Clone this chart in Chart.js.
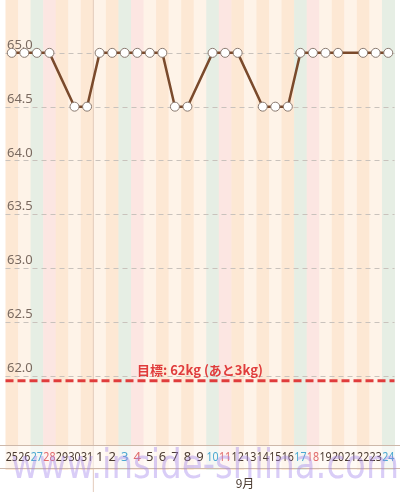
<!DOCTYPE html>
<html><head><meta charset="utf-8">
<script src="https://cdn.jsdelivr.net/npm/chart.js@4"></script>
<style>html,body{margin:0;padding:0;background:#fff}#wrap{width:400px;height:492px}</style>
</head><body><div id="wrap"><canvas id="c"></canvas></div>
<script>
const days = ['25','26','27','28','29','30','31','1','2','3','4','5','6','7','8','9','10','11','12','13','14','15','16','17','18','19','20','21','22','23','24'];
const weights = [65,65,65,65,null,64.5,64.5,65,65,65,65,65,65,64.5,64.5,null,65,65,65,null,64.5,64.5,64.5,65,65,65,65,null,65,65,65];
const blueDays = ['27','3','10','17','24'];
const redDays = ['28','4','11','18'];
const yTicks = [62.0,62.5,63.0,63.5,64.0,64.5,65.0];
const goal = 62;
const goalLabel = '目標: 62kg (あと3kg)';
const monthLabel = '9月';

const decor = {
  id: 'decor',
  beforeDatasetsDraw(chart) {
    const ctx = chart.ctx, x = chart.scales.x, y = chart.scales.y, a = chart.chartArea;
    const w = x.getPixelForValue(1) - x.getPixelForValue(0);
    let alt = 0;
    days.forEach((d, i) => {
      let col;
      if (blueDays.includes(d)) col = '#e6eee4';
      else if (redDays.includes(d)) col = '#fce6e2';
      else { col = alt % 2 ? '#fef3e8' : '#fde8d4'; alt++; }
      ctx.fillStyle = col;
      ctx.fillRect(x.getPixelForValue(i) - w / 2, 0, w + 0.5, 470);
    });
    const mx = (x.getPixelForValue(6) + x.getPixelForValue(7)) / 2;
    ctx.strokeStyle = '#e3cbbb'; ctx.lineWidth = 1;
    ctx.beginPath(); ctx.moveTo(mx, 0); ctx.lineTo(mx, 492); ctx.stroke();
    ctx.save();
    ctx.setLineDash([5, 4]); ctx.strokeStyle = '#c9c2bc';
    yTicks.forEach(v => {
      const py = Math.round(y.getPixelForValue(v)) + 0.5;
      ctx.beginPath(); ctx.moveTo(a.left, py); ctx.lineTo(a.right, py); ctx.stroke();
    });
    ctx.restore();
    ctx.font = '13px "Noto Sans", sans-serif';
    ctx.fillStyle = '#7a6a60'; ctx.textAlign = 'left'; ctx.textBaseline = 'bottom';
    yTicks.forEach(v => ctx.fillText(v.toFixed(1), 7, y.getPixelForValue(v) - 1));
    const gy = y.getPixelForValue(goal) + 5;
    ctx.save();
    ctx.setLineDash([8, 4]); ctx.strokeStyle = '#e03c3c'; ctx.lineWidth = 3;
    ctx.beginPath(); ctx.moveTo(a.left, gy); ctx.lineTo(a.right, gy); ctx.stroke();
    ctx.restore();
    ctx.font = 'bold 13px "Noto Sans CJK JP", sans-serif';
    ctx.fillStyle = '#e03c3c'; ctx.textAlign = 'center'; ctx.textBaseline = 'middle';
    ctx.fillText(goalLabel, 200, gy - 11);
    ctx.fillStyle = 'rgba(255,255,255,0.55)';
    ctx.fillRect(0, 445, 400, 24);
    ctx.strokeStyle = '#cdb8aa'; ctx.lineWidth = 1;
    ctx.beginPath(); ctx.moveTo(0, 445.5); ctx.lineTo(400, 445.5); ctx.moveTo(0, 468.5); ctx.lineTo(400, 468.5); ctx.stroke();
    ctx.font = '13px "Noto Sans", sans-serif'; ctx.textBaseline = 'middle';
    days.forEach((d, i) => {
      ctx.fillStyle = blueDays.includes(d) ? '#4aa8d0' : redDays.includes(d) ? '#e06a6a' : '#4a3a30';
      const sq = d.length > 1 ? 0.82 : 1;
      ctx.save(); ctx.translate(x.getPixelForValue(i), 457); ctx.scale(sq, 1);
      ctx.fillText(d, 0, 0); ctx.restore();
    });
    ctx.fillStyle = '#4a3a30'; ctx.font = '12px "Noto Sans CJK JP", sans-serif';
    ctx.fillText(monthLabel, 245, 483);
  },
  afterDraw(chart) {
    const ctx = chart.ctx;
    ctx.font = '40px "DejaVu Sans", sans-serif';
    ctx.fillStyle = 'rgba(160,130,235,0.4)'; ctx.textAlign = 'center'; ctx.textBaseline = 'middle';
    ctx.save(); ctx.translate(205, 468); ctx.scale(0.85, 1);
    ctx.fillText('www.inside-shiina.com', 0, 0); ctx.restore();
  }
};

new Chart(document.getElementById('c'), {
  type: 'line',
  data: {
    labels: days,
    datasets: [{
      data: weights,
      borderColor: '#7a4a2c',
      borderWidth: 2.5,
      pointBackgroundColor: '#fff',
      pointBorderColor: '#8a7a70',
      pointBorderWidth: 1,
      pointRadius: 4.5,
      spanGaps: true,
      tension: 0
    }]
  },
  options: {
    responsive: true,
    maintainAspectRatio: false,
    animation: false,
    layout: { padding: { left: 0, right: 0, top: 0, bottom: 56 } },
    plugins: { legend: { display: false }, tooltip: { enabled: false } },
    scales: {
      x: { display: false, offset: true },
      y: { display: false, min: 61.44, max: 65.44 }
    }
  },
  plugins: [decor]
});
</script></body></html>
